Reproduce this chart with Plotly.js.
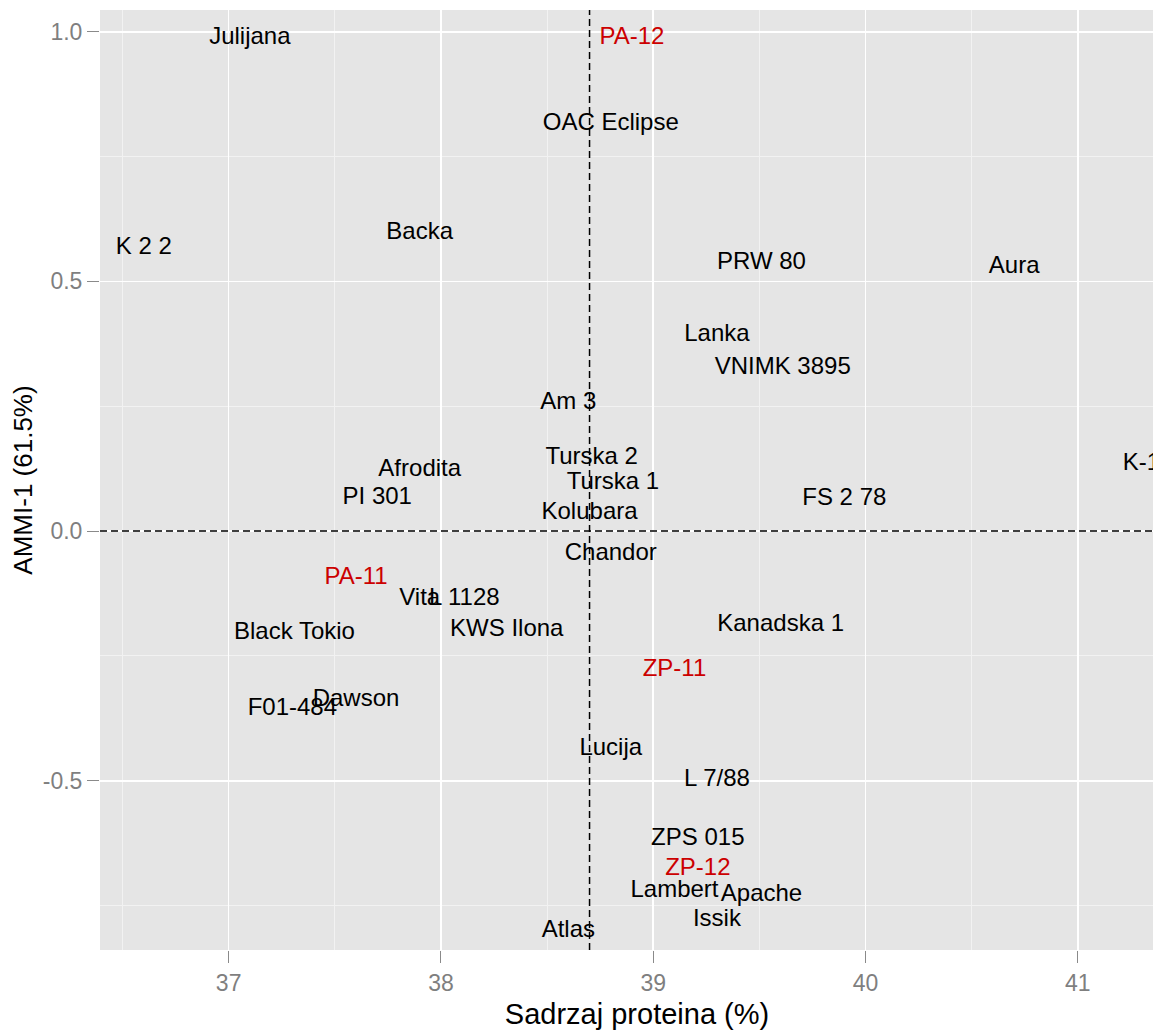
<!DOCTYPE html>
<html>
<head>
<meta charset="utf-8">
<script src="https://cdn.plot.ly/plotly-3.0.1.min.js"></script>
<style>
  html, body { margin: 0; padding: 0; background: #ffffff; overflow: hidden; }
  #wrap { width: 1153px; height: 1033px; overflow: hidden; position: relative; }
  #chart { width: 1174px; height: 1033px; }
</style>
</head>
<body>
<div id="wrap"><div id="chart"></div></div>
<script>
// Genotypes (black labels)
const genoNames = ["Julijana","OAC Eclipse","K 2 2","Backa","PRW 80","Aura","Lanka","VNIMK 3895","Am 3",
  "Turska 2","Turska 1","Afrodita","PI 301","Kolubara","FS 2 78","K-1","Chandor","Vita","L 1128",
  "Black Tokio","KWS Ilona","Kanadska 1","Dawson","F01-484","Lucija","L 7/88","ZPS 015","Lambert",
  "Apache","Issik","Atlas"];
const genoProtein = [37.10, 38.80, 36.60, 37.90, 39.51, 40.70, 39.30, 39.61, 38.60,
  38.71, 38.81, 37.90, 37.70, 38.70, 39.90, 41.30, 38.80, 37.90, 38.11,
  37.31, 38.31, 39.60, 37.60, 37.30, 38.80, 39.30, 39.21, 39.10,
  39.51, 39.30, 38.60];
const genoAmmi1 = [0.988, 0.816, 0.566, 0.597, 0.536, 0.529, 0.393, 0.326, 0.257,
  0.147, 0.096, 0.123, 0.066, 0.036, 0.065, 0.134, -0.045, -0.137, -0.137,
  -0.205, -0.198, -0.189, -0.339, -0.357, -0.437, -0.499, -0.617, -0.720,
  -0.729, -0.778, -0.800];

// Environments (red labels)
const envNames = ["PA-12","PA-11","ZP-11","ZP-12"];
const envProtein = [38.90, 37.60, 39.10, 39.21];
const envAmmi1 = [0.988, -0.095, -0.278, -0.677];

// Reference lines: grand mean protein and AMMI-1 = 0
const meanProtein = 38.7;
const ammiZero = 0;

// Axis ticks
const xTickVals = [37, 38, 39, 40, 41];
const xTickText = ["37", "38", "39", "40", "41"];
const xMinorVals = [36.5, 37.5, 38.5, 39.5, 40.5, 41.5];
const yTickVals = [-0.5, 0, 0.5, 1.0];
const yTickText = ["-0.5", "0.0", "0.5", "1.0"];
const yMinorVals = [-0.75, -0.25, 0.25, 0.75];

const FONT = "Liberation Sans, Arial, Helvetica, sans-serif";

const traces = [
  {
    type: "scatter", mode: "text",
    x: genoProtein, y: genoAmmi1, text: genoNames,
    textposition: "middle center",
    textfont: { family: FONT, size: 24, color: "#000000" },
    cliponaxis: true, hoverinfo: "text", showlegend: false
  },
  {
    type: "scatter", mode: "text",
    x: envProtein, y: envAmmi1, text: envNames,
    textposition: "middle center",
    textfont: { family: FONT, size: 24, color: "#CC0000" },
    cliponaxis: true, hoverinfo: "text", showlegend: false
  }
];

const layout = {
  width: 1174, height: 1033,
  margin: { l: 100, r: 0, t: 10, b: 83, pad: 0 },
  paper_bgcolor: "#ffffff",
  plot_bgcolor: "#E5E5E5",
  font: { family: FONT, color: "#000000" },
  showlegend: false,
  xaxis: {
    range: [36.394, 41.453],
    tickmode: "array", tickvals: xTickVals, ticktext: xTickText,
    ticks: "outside", ticklen: 12, tickwidth: 1, tickcolor: "#8A8A8A",
    tickfont: { family: FONT, size: 23, color: "#7F7F7F" },
    showgrid: true, gridcolor: "#FFFFFF", gridwidth: 1.6,
    minor: { tickmode: "array", tickvals: xMinorVals, showgrid: true, gridcolor: "#F2F2F2", gridwidth: 1, ticks: "" },
    zeroline: false, showline: false,
    title: { text: "Sadrzaj proteina (%)", font: { family: FONT, size: 29, color: "#000000" }, standoff: 9 }
  },
  yaxis: {
    range: [-0.839, 1.0435],
    tickmode: "array", tickvals: yTickVals, ticktext: yTickText,
    ticks: "outside", ticklen: 12, tickwidth: 1, tickcolor: "#8A8A8A",
    tickfont: { family: FONT, size: 23, color: "#7F7F7F" },
    showgrid: true, gridcolor: "#FFFFFF", gridwidth: 1.6,
    minor: { tickmode: "array", tickvals: yMinorVals, showgrid: true, gridcolor: "#F2F2F2", gridwidth: 1, ticks: "" },
    zeroline: false, showline: false,
    title: { text: "AMMI-1 (61.5%)", font: { family: FONT, size: 26, color: "#000000" }, standoff: 2 }
  },
  shapes: [
    { type: "line", xref: "x", yref: "paper", x0: meanProtein, x1: meanProtein, y0: 0, y1: 1,
      line: { color: "#000000", width: 1.5, dash: "7px,4px" }, layer: "above" },
    { type: "line", xref: "paper", yref: "y", x0: 0, x1: 1, y0: ammiZero, y1: ammiZero,
      line: { color: "#000000", width: 1.5, dash: "7px,4px" }, layer: "above" }
  ]
};

Plotly.newPlot("chart", traces, layout, { displayModeBar: false, responsive: false, staticPlot: true });
</script>
</body>
</html>
